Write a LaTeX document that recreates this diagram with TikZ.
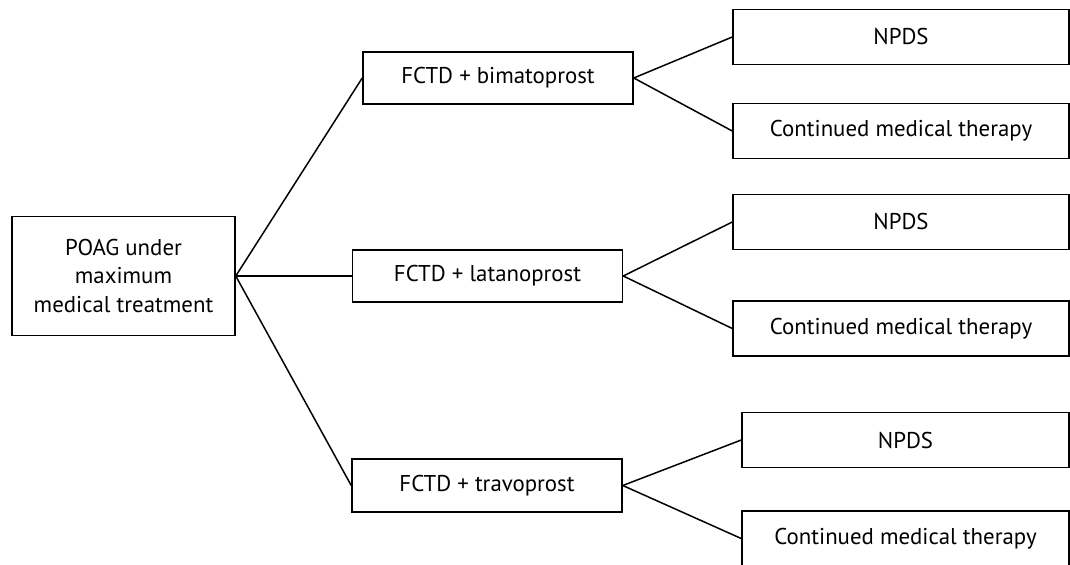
\documentclass[tikz,border=0pt]{standalone}
\usepackage{fontspec}
\setmainfont{PT Sans}
\usepackage{tikz}
\usetikzlibrary{calc,positioning}

\begin{document}
\begin{tikzpicture}[x=0.02cm,y=-0.02cm]

\tikzset{treebox/.style={draw,line width=0.9pt,inner sep=0,align=center,
  font=\fontsize{13}{16}\selectfont},
midbox/.style={treebox,minimum width=5.4cm,minimum height=1.04cm},
endbox/.style={treebox,minimum width=6.72cm,minimum height=1.1cm},
edge/.style={line width=0.85pt}}

\clip (0,0) rectangle (1070,564);

% Root node
\node (root) [treebox,minimum width=4.46cm,minimum height=2.38cm] at (123.5,276)
  {POAG under\\maximum\\medical treatment};

% Treatment nodes
\node (bima) [midbox] at (498,78) {FCTD + bimatoprost};
\node (lata) [midbox] at (487.5,276) {FCTD + latanoprost};
\node (trav) [midbox,minimum height=1.06cm] at (487,485.5) {FCTD + travoprost};

% Outcome nodes
\node (npdsA) [endbox] at (901,37) {NPDS};
\node (contA) [endbox] at (901,131) {Continued medical therapy};
\node (npdsB) [endbox] at (901,222) {NPDS};
\node (contB) [endbox] at (901,328.5) {Continued medical therapy};
\node (npdsC) [endbox,minimum width=6.54cm] at (905.5,440) {NPDS};
\node (contC) [endbox,minimum width=6.54cm] at (905.5,538.5) {Continued medical therapy};

%% Edges
\foreach \parent/\child in {
	root/bima, root/lata, root/trav,
	bima/npdsA, bima/contA, lata/npdsB, lata/contB, trav/npdsC, trav/contC%
}
	\draw[edge] (\parent.east) -- (\child.west);
\end{tikzpicture}
\end{document}
